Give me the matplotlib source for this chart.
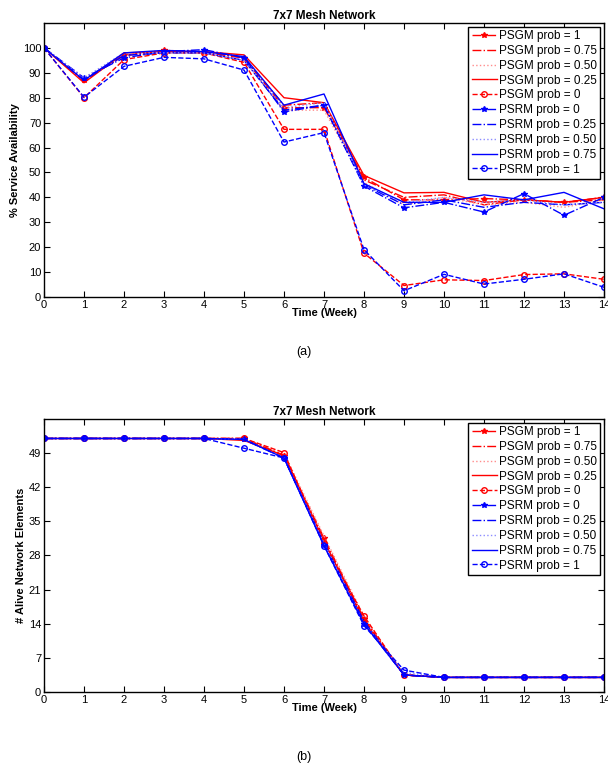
import matplotlib
matplotlib.use('Agg')
import matplotlib.pyplot as plt
import numpy as np

plt.rcParams['font.family'] = ['Liberation Sans', 'DejaVu Sans']

weeks = np.arange(15)
labels = ['PSGM prob = 1', 'PSGM prob = 0.75', 'PSGM prob = 0.50', 'PSGM prob = 0.25',
          'PSGM prob = 0', 'PSRM prob = 0', 'PSRM prob = 0.25', 'PSRM prob = 0.50',
          'PSRM prob = 0.75', 'PSRM prob = 1']

# (a) % service availability
avail_psgm_1 = [100, 87, 97, 99, 98.5, 96, 76, 76, 48, 39, 39, 39.5, 39, 38, 40]
avail_psgm_075 = [100, 87, 97, 98.5, 98, 96, 77, 78, 47, 40, 41, 37, 39, 38, 39]
avail_psgm_050 = [100, 88, 97, 98, 98, 95, 75, 75, 46, 37, 40, 37, 38, 36, 39]
avail_psgm_025 = [100, 86, 98, 98.5, 98.5, 97.2, 80, 78, 48.8, 41.8, 42, 38, 39, 38, 40]
avail_psgm_0 = [100, 80, 95.3, 98, 98, 94.2, 67.3, 67.3, 17.6, 4.6, 6.9, 6.6, 9, 9.3, 7.1]
avail_psrm_0 = [100, 88, 96, 98.5, 99.3, 96, 74.3, 77, 44.5, 35.8, 38, 34.1, 41.5, 32.8, 40]
avail_psrm_025 = [100, 87, 97, 98, 98, 95, 75, 77, 45, 37, 39, 36, 38, 37, 38]
avail_psrm_050 = [100, 88, 98, 98, 98, 95, 76, 78, 45, 38, 40, 38, 39, 37, 38]
avail_psrm_075 = [100, 87, 98, 99, 98.5, 96.5, 77, 81.5, 45.5, 38, 38, 41, 39, 42, 35.4]
avail_psrm_1 = [100, 80.2, 92.6, 96.2, 95.6, 91.1, 62.2, 66, 19, 2.5, 9.1, 5.2, 7.1, 9.3, 3.9]

# (b) # alive network elements
alive_psgm_1 = [52, 52, 52, 52, 52, 52, 48.5, 31.6, 15, 3.5, 3, 3, 3, 3, 3]
alive_psgm_075 = [52, 52, 52, 52, 52, 52, 48.5, 31, 15, 3.5, 3, 3, 3, 3, 3]
alive_psgm_050 = [52, 52, 52, 52, 52, 52, 49, 32, 15.5, 3.5, 3, 3, 3, 3, 3]
alive_psgm_025 = [52, 52, 52, 52, 52, 51.6, 48.5, 31, 14.5, 3.5, 3, 3, 3, 3, 3]
alive_psgm_0 = [52, 52, 52, 52, 52, 52, 49.1, 30.5, 15.6, 3.5, 3, 3, 3, 3, 3]
alive_psrm_0 = [52, 52, 52, 52, 52, 51.8, 48, 30.2, 14, 3.5, 3, 3, 3, 3, 3]
alive_psrm_025 = [52, 52, 52, 52, 52, 51.8, 48, 30.5, 14.5, 3.5, 3, 3, 3, 3, 3]
alive_psrm_050 = [52, 52, 52, 52, 52, 51.8, 48, 30.5, 14, 4, 3, 3, 3, 3, 3]
alive_psrm_075 = [52, 52, 52, 52, 52, 51.8, 48, 30, 14, 3.5, 3, 3, 3, 3, 3]
alive_psrm_1 = [52, 52, 52, 52, 52, 50, 48, 30, 13.6, 4.5, 3, 3, 3, 3, 3]

avail = [avail_psgm_1, avail_psgm_075, avail_psgm_050, avail_psgm_025, avail_psgm_0,
         avail_psrm_0, avail_psrm_025, avail_psrm_050, avail_psrm_075, avail_psrm_1]
alive = [alive_psgm_1, alive_psgm_075, alive_psgm_050, alive_psgm_025, alive_psgm_0,
         alive_psrm_0, alive_psrm_025, alive_psrm_050, alive_psrm_075, alive_psrm_1]

red = (1, 0, 0)
pink = (1, 0.55, 0.55)
blue = (0, 0, 1)
lblue = (0.55, 0.55, 1)
styles = [
    dict(color=red, ls='-.', marker='*', ms=4),
    dict(color=red, ls='-.', marker=None),
    dict(color=pink, ls=':', marker=None),
    dict(color=red, ls='-', marker=None),
    dict(color=red, ls='--', marker='o', ms=4, mfc='none'),
    dict(color=blue, ls='-.', marker='*', ms=4),
    dict(color=blue, ls='-.', marker=None),
    dict(color=lblue, ls=':', marker=None),
    dict(color=blue, ls='-', marker=None),
    dict(color=blue, ls='--', marker='o', ms=4, mfc='none'),
]

fig = plt.figure(figsize=(6.08, 7.74), dpi=100)
ax1 = fig.add_axes([0.0724, 0.6163, 0.921, 0.354])
ax2 = fig.add_axes([0.0724, 0.1059, 0.921, 0.3528])


def draw(ax, data, ylim, yticks, ylabel):
    for d, lab, st in zip(data, labels, styles):
        ax.plot(weeks, d, label=lab, lw=1.0, **st)
    ax.set_xlim(0, 14)
    ax.set_ylim(*ylim)
    ax.set_xticks(weeks)
    ax.set_yticks(yticks)
    ax.tick_params(direction='in', top=True, right=True, length=4, labelsize=8, pad=2)
    for s in ax.spines.values():
        s.set_linewidth(1.0)
    ax.set_title('7x7 Mesh Network', fontsize=8.5, fontweight='bold', pad=3)
    ax.set_xlabel('Time (Week)', fontsize=8, fontweight='bold', labelpad=-1)
    ax.set_ylabel(ylabel, fontsize=8, fontweight='bold', labelpad=2)
    leg = ax.legend(loc='upper right', fontsize=8.5, handlelength=2.1, labelspacing=0.24,
                    borderaxespad=0.3, borderpad=0.3, handletextpad=0.2, fancybox=False,
                    framealpha=1)
    leg.get_frame().set_edgecolor('black')
    leg.get_frame().set_linewidth(1.0)


draw(ax1, avail, (0, 110), np.arange(0, 101, 10), '% Service Availability')
draw(ax2, alive, (0, 56), np.arange(0, 50, 7), '# Alive Network Elements')

fig.text(0.5, 1 - 352 / 774, '(a)', ha='center', va='center', fontsize=9)
fig.text(0.5, 1 - 757 / 774, '(b)', ha='center', va='center', fontsize=9)

plt.savefig('out.png', dpi=100)
